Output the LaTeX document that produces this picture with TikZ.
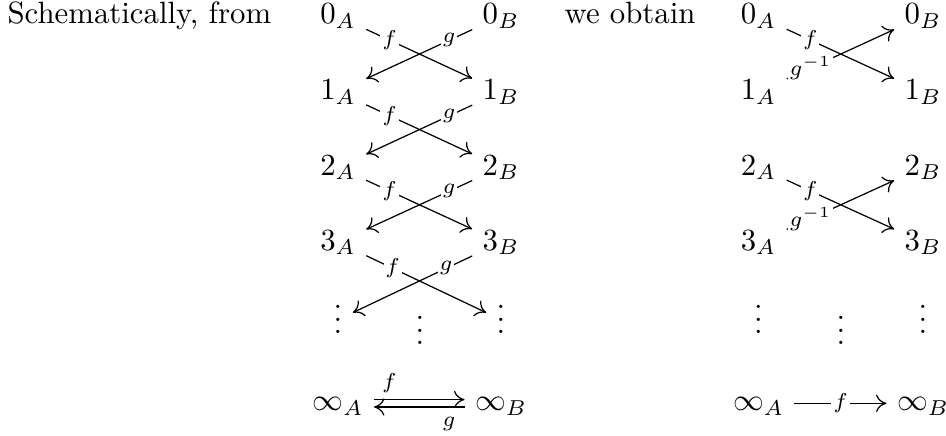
\documentclass[tikz,border=0pt]{standalone}
\usetikzlibrary{cd,arrows.meta}
\begin{document}
\begin{tikzpicture}[x=0.32468pt,y=-0.32468pt,
  obj/.style={anchor=base, inner sep=3.2pt, text height=6.5pt, text depth=1.5pt},
  dotsobj/.style={anchor=base, inner sep=3.2pt, text height=9.5pt, text depth=0.5pt},
  txt/.style={anchor=base west, inner sep=0pt},
  arr/.style={-{To[length=3.4pt,width=5.6pt]}, line width=0.4pt},
  dlab/.style={fill=white, inner sep=0.6pt},
  labup/.style={inner sep=2.15pt},
  labdn/.style={inner sep=3pt}]
\useasboundingbox (0,0) rectangle (946,436);
% texts
\node[txt] (t1) at (7,24) {Schematically, from};
\node[txt] (t2) at (564,24) {we obtain};
% left diagram
\node[obj] (a0) at (338,24) {$0_A$};
\node[obj] (b0) at (501,24) {$0_B$};
\node[obj] (a1) at (338,99.5) {$1_A$};
\node[obj] (b1) at (501,99.5) {$1_B$};
\node[obj] (a2) at (338,175) {$2_A$};
\node[obj] (b2) at (501,175) {$2_B$};
\node[obj] (a3) at (338,250) {$3_A$};
\node[obj] (b3) at (501,250) {$3_B$};
\node[dotsobj] (da) at (338,333.5) {$\vdots$};
\node[dotsobj] (db) at (501,333.5) {$\vdots$};
\node[dotsobj] (dm) at (420,344.5) {$\vdots$};
\node[obj] (ia) at (338,411) {$\infty_A$};
\node[obj] (ib) at (501,411) {$\infty_B$};
\draw[arr] (a0) -- node[dlab,pos=0.22] {$\scriptstyle f$} (b1);
\draw[arr] (b0) -- node[dlab,pos=0.22] {$\scriptstyle g$} (a1);
\draw[arr] (a1) -- node[dlab,pos=0.22] {$\scriptstyle f$} (b2);
\draw[arr] (b1) -- node[dlab,pos=0.22] {$\scriptstyle g$} (a2);
\draw[arr] (a2) -- node[dlab,pos=0.22] {$\scriptstyle f$} (b3);
\draw[arr] (b2) -- node[dlab,pos=0.22] {$\scriptstyle g$} (a3);
\draw[arr] (a3) -- node[dlab,pos=0.22] {$\scriptstyle f$} (db);
\draw[arr] (b3) -- node[dlab,pos=0.22] {$\scriptstyle g$} (da);
\draw[arr] ([yshift=1.2pt]ia.east) -- node[labup,above,pos=0.17] {$\scriptstyle f$} ([yshift=1.2pt]ib.west);
\draw[arr] ([yshift=-1.2pt]ib.west) -- node[labdn,below,pos=0.17] {$\scriptstyle g$} ([yshift=-1.2pt]ia.east);
% right diagram
\node[obj] (ra0) at (758.5,24) {$0_A$};
\node[obj] (rb0) at (923,24) {$0_B$};
\node[obj] (ra1) at (758.5,99.5) {$1_A$};
\node[obj] (rb1) at (923,99.5) {$1_B$};
\node[obj] (ra2) at (758.5,175) {$2_A$};
\node[obj] (rb2) at (923,175) {$2_B$};
\node[obj] (ra3) at (758.5,250) {$3_A$};
\node[obj] (rb3) at (923,250) {$3_B$};
\node[dotsobj] (rda) at (758.5,333.5) {$\vdots$};
\node[dotsobj] (rdb) at (923,333.5) {$\vdots$};
\node[dotsobj] (rdm) at (841,344.5) {$\vdots$};
\node[obj] (ria) at (758.5,411) {$\infty_A$};
\node[obj] (rib) at (923,411) {$\infty_B$};
\draw[arr] (ra0) -- node[dlab,pos=0.22] {$\scriptstyle f$} (rb1);
\draw[arr] (ra1) -- node[dlab,pos=0.22] {$\scriptstyle g^{-1}$} (rb0);
\draw[arr] (ra2) -- node[dlab,pos=0.22] {$\scriptstyle f$} (rb3);
\draw[arr] (ra3) -- node[dlab,pos=0.22] {$\scriptstyle g^{-1}$} (rb2);
\draw[arr] (ria) -- node[dlab,pos=0.5] {$\scriptstyle f$} (rib);
\end{tikzpicture}
\end{document}
